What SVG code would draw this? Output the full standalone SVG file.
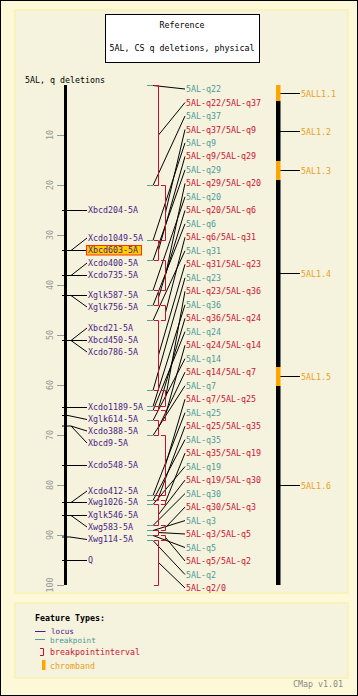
<svg xmlns="http://www.w3.org/2000/svg" width="358" height="696" viewBox="0 0 358 696">
<style>
.t{font-family:"DejaVu Sans Mono","Liberation Mono",monospace;font-size:8.3px}
.lg{font-size:7.6px}
.loc{fill:#4b1c87}
.bp{fill:#4f9a9a}
.bi{fill:#cc1133}
.cb{fill:#eaa020}
.blk{fill:#000}
.num{fill:#999}
.ln{stroke:#000;stroke-width:1;fill:none}
.tk{stroke:#5f9ea0;stroke-width:1;fill:none}
.br{stroke:#c8102e;stroke-width:1;fill:none}
.gt{stroke:#999;stroke-width:1;fill:none}
</style>
<rect x="0.5" y="0.5" width="357" height="695" fill="#fdf9d8" stroke="#000"/>
<rect x="15" y="10" width="333" height="583" fill="#f5f3dd" stroke="#f8f3bc" stroke-width="2"/>
<rect x="15" y="603" width="333" height="75" fill="#f5f3dd" stroke="#f8f3bc" stroke-width="2"/>
<g id="title">
<rect x="105.5" y="14.5" width="154" height="48" fill="#fff" stroke="#000"/>
<text class="t blk" x="182" y="28" text-anchor="middle">Reference</text>
<text class="t blk" x="182" y="51" text-anchor="middle">5AL, CS q deletions, physical</text>
</g>
<text class="t blk" x="25" y="83">5AL, q deletions</text>
<g id="axis">
<rect x="64" y="85" width="3" height="500" fill="#000"/>
<path class="gt" d="M57,135.5H64M57,185.5H64M57,235.5H64M57,285.5H64M57,335.5H64M57,385.5H64M57,435.5H64M57,485.5H64M57,535.5H64M57,585.5H64"/>
<text class="t num" text-anchor="middle" transform="translate(53,135) rotate(-90)">10</text>
<text class="t num" text-anchor="middle" transform="translate(53,185) rotate(-90)">20</text>
<text class="t num" text-anchor="middle" transform="translate(53,235) rotate(-90)">30</text>
<text class="t num" text-anchor="middle" transform="translate(53,285) rotate(-90)">40</text>
<text class="t num" text-anchor="middle" transform="translate(53,335) rotate(-90)">50</text>
<text class="t num" text-anchor="middle" transform="translate(53,385) rotate(-90)">60</text>
<text class="t num" text-anchor="middle" transform="translate(53,435) rotate(-90)">70</text>
<text class="t num" text-anchor="middle" transform="translate(53,485) rotate(-90)">80</text>
<text class="t num" text-anchor="middle" transform="translate(53,535) rotate(-90)">90</text>
<text class="t num" text-anchor="middle" transform="translate(53,585) rotate(-90)">100</text>
</g>
<g id="connectors">
<path class="ln" d="M62,210.5H87M62,250.5H71M71,250.5L87,238M71,250.5H87M62,275.5H71M71,275.5L87,263M71,275.5H87M62,295.5H71M71,295.5H87M71,295.5L87,307M62,340.5H71M71,340.5L87,328M71,340.5H87M71,340.5L87,352M62,407.5H87M62,415.5H68L87,419.5M62,426H71L87,431M71,426L87,443M62,465.5H87M62,502.5H71L87,491M71,502.5H87M62,515.5H87M71,515.5L87,527M62,537H70L87,539.5M62,560.5H87"/>
<path class="ln" d="M153,85.5L185,89M153,185.5L185,116M153,240.5L185,142.9M153,260.5L185,169.9M153,290.5L185,196.9M153,305.5L185,223.9M153,320.5L185,250.8M153,390.5L185,277.8M153,406.5L185,304.8M153,410.5L185,331.7M153,420.5L185,358.7M153,435.5L185,385.7M153,495.5L185,412.7M153,500.5L185,439.6M153,504.5L185,466.6M153,525.5L185,493.6M153,530.5L185,520.6M153,535.5L185,547.5M153,540.5L185,574.5"/>
<path class="ln" d="M158.5,135L185,102.5M165.5,212.5L185,129.5M158.5,250L185,156.4M165.5,275L185,183.4M158.5,297.5L185,210.4M165.5,312.5L185,237.3M158.5,355L185,264.3M165.5,398L185,291.3M158.5,408L185,318.3M165.5,415L185,345.2M158.5,427.5L185,372.2M165.5,465L185,399.2M158.5,497.5L185,426.2M165.5,502L185,453.1M158.5,514.5L185,480.1M165.5,527.5L185,507.1M158.5,532.5L185,534M165.5,537.5L185,561M158.5,562.5L185,588"/>
<path class="ln" d="M280,93.5H300M280,131.5H300M280,170.5H300M280,273.5H300M280,376.5H300M280,485.5H300"/>
</g>
<g id="loci">
<text class="t loc" x="88" y="213">Xbcd204-5A</text>
<text class="t loc" x="88" y="241">Xcdo1049-5A</text>
<rect x="86.5" y="245.5" width="55" height="9.5" fill="#ffcc00" stroke="#ff3300"/>
<text class="t loc" x="88" y="253">Xbcd603-5A</text>
<text class="t loc" x="88" y="266">Xcdo400-5A</text>
<text class="t loc" x="88" y="278">Xcdo735-5A</text>
<text class="t loc" x="88" y="298">Xglk587-5A</text>
<text class="t loc" x="88" y="310">Xglk756-5A</text>
<text class="t loc" x="88" y="331">Xbcd21-5A</text>
<text class="t loc" x="88" y="343">Xbcd450-5A</text>
<text class="t loc" x="88" y="355">Xcdo786-5A</text>
<text class="t loc" x="88" y="410">Xcdo1189-5A</text>
<text class="t loc" x="88" y="422">Xglk614-5A</text>
<text class="t loc" x="88" y="434">Xcdo388-5A</text>
<text class="t loc" x="88" y="446">Xbcd9-5A</text>
<text class="t loc" x="88" y="468">Xcdo548-5A</text>
<text class="t loc" x="88" y="494">Xcdo412-5A</text>
<text class="t loc" x="88" y="505">Xwg1026-5A</text>
<text class="t loc" x="88" y="518">Xglk546-5A</text>
<text class="t loc" x="88" y="530">Xwg583-5A</text>
<text class="t loc" x="88" y="542">Xwg114-5A</text>
<text class="t loc" x="88" y="563">Q</text>
</g>
<g id="breakpoints">
<path class="tk" d="M147,85.5H153M147,185.5H153M147,240.5H153M147,260.5H153M147,290.5H153M147,305.5H153M147,320.5H153M147,390.5H153M147,406.5H153M147,410.5H153M147,420.5H153M147,435.5H153M147,495.5H153M147,500.5H153M147,504.5H153M147,525.5H153M147,530.5H153M147,535.5H153M147,540.5H153"/>
<text class="t bp" x="186" y="92">5AL-q22</text>
<text class="t bp" x="186" y="119">5AL-q37</text>
<text class="t bp" x="186" y="146">5AL-q9</text>
<text class="t bp" x="186" y="173">5AL-q29</text>
<text class="t bp" x="186" y="200">5AL-q20</text>
<text class="t bp" x="186" y="227">5AL-q6</text>
<text class="t bp" x="186" y="254">5AL-q31</text>
<text class="t bp" x="186" y="281">5AL-q23</text>
<text class="t bp" x="186" y="308">5AL-q36</text>
<text class="t bp" x="186" y="335">5AL-q24</text>
<text class="t bp" x="186" y="362">5AL-q14</text>
<text class="t bp" x="186" y="389">5AL-q7</text>
<text class="t bp" x="186" y="416">5AL-q25</text>
<text class="t bp" x="186" y="443">5AL-q35</text>
<text class="t bp" x="186" y="470">5AL-q19</text>
<text class="t bp" x="186" y="497">5AL-q30</text>
<text class="t bp" x="186" y="524">5AL-q3</text>
<text class="t bp" x="186" y="551">5AL-q5</text>
<text class="t bp" x="186" y="578">5AL-q2</text>
</g>
<g id="intervals">
<path class="br" d="M154,85.5H158.5V185.5H154M161,185.5H165.5V240.5H161M154,240.5H158.5V260.5H154M161,260.5H165.5V290.5H161M154,290.5H158.5V305.5H154M161,305.5H165.5V320.5H161M154,320.5H158.5V390.5H154M161,390.5H165.5V406.5H161M154,406.5H158.5V410.5H154M161,410.5H165.5V420.5H161M154,420.5H158.5V435.5H154M161,435.5H165.5V495.5H161M154,495.5H158.5V500.5H154M161,500.5H165.5V504.5H161M154,504.5H158.5V525.5H154M161,525.5H165.5V530.5H161M154,530.5H158.5V535.5H154M161,535.5H165.5V540.5H161M154,540.5H158.5V585.5H154"/>
<text class="t bi" x="186" y="105.5">5AL-q22/5AL-q37</text>
<text class="t bi" x="186" y="132.5">5AL-q37/5AL-q9</text>
<text class="t bi" x="186" y="159.4">5AL-q9/5AL-q29</text>
<text class="t bi" x="186" y="186.4">5AL-q29/5AL-q20</text>
<text class="t bi" x="186" y="213.4">5AL-q20/5AL-q6</text>
<text class="t bi" x="186" y="240.3">5AL-q6/5AL-q31</text>
<text class="t bi" x="186" y="267.3">5AL-q31/5AL-q23</text>
<text class="t bi" x="186" y="294.3">5AL-q23/5AL-q36</text>
<text class="t bi" x="186" y="321.3">5AL-q36/5AL-q24</text>
<text class="t bi" x="186" y="348.2">5AL-q24/5AL-q14</text>
<text class="t bi" x="186" y="375.2">5AL-q14/5AL-q7</text>
<text class="t bi" x="186" y="402.2">5AL-q7/5AL-q25</text>
<text class="t bi" x="186" y="429.2">5AL-q25/5AL-q35</text>
<text class="t bi" x="186" y="456.1">5AL-q35/5AL-q19</text>
<text class="t bi" x="186" y="483.1">5AL-q19/5AL-q30</text>
<text class="t bi" x="186" y="510.1">5AL-q30/5AL-q3</text>
<text class="t bi" x="186" y="537">5AL-q3/5AL-q5</text>
<text class="t bi" x="186" y="564">5AL-q5/5AL-q2</text>
<text class="t bi" x="186" y="591">5AL-q2/0</text>
</g>
<g id="chrombands">
<rect x="276" y="85" width="4.5" height="16" fill="#ffa500"/>
<rect x="276" y="101" width="4.5" height="60" fill="#000"/>
<rect x="276" y="161" width="4.5" height="19" fill="#ffa500"/>
<rect x="276" y="180" width="4.5" height="187" fill="#000"/>
<rect x="276" y="367" width="4.5" height="19" fill="#ffa500"/>
<rect x="276" y="386" width="4.5" height="199" fill="#000"/>
<text class="t cb" x="301" y="96.5">5ALL1.1</text>
<text class="t cb" x="301" y="134.5">5AL1.2</text>
<text class="t cb" x="301" y="173.5">5AL1.3</text>
<text class="t cb" x="301" y="276.5">5AL1.4</text>
<text class="t cb" x="301" y="379.5">5AL1.5</text>
<text class="t cb" x="301" y="488.5">5AL1.6</text>
</g>
<g id="legend">
<text class="t blk" x="35" y="621" font-weight="bold">Feature Types:</text>
<path d="M35,631.5H45.5" stroke="#4b1c87" stroke-width="1"/>
<text class="t lg loc" x="51" y="633.5">locus</text>
<path d="M35,639.5H45" stroke="#5f9ea0" stroke-width="1"/>
<text class="t lg bp" x="50" y="642.5">breakpoint</text>
<path class="br" d="M40,648.5H43.5V655.5H40"/>
<text class="t bi" x="50" y="655">breakpointinterval</text>
<rect x="42" y="660" width="3.5" height="10" fill="#ffa500"/>
<text class="t cb" x="50" y="668.5">chromband</text>
</g>
<text class="t" x="293" y="687" fill="#888">CMap v1.01</text>
</svg>
